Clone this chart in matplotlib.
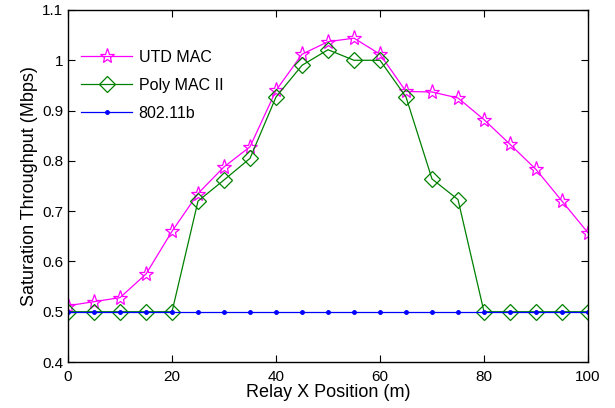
import matplotlib
matplotlib.use("Agg")
from matplotlib import pyplot as plt

plt.rcParams.update({
    "font.family": ["Liberation Sans", "DejaVu Sans"],
    "figure.facecolor": "white",
    "axes.facecolor": "white",
})

relay_x = [0, 5, 10, 15, 20, 25, 30, 35, 40, 45, 50, 55, 60, 65, 70, 75, 80, 85, 90, 95, 100]
utd_mac = [0.512, 0.520, 0.528, 0.575, 0.660, 0.735, 0.788, 0.828, 0.940, 1.012, 1.037, 1.044,
           1.012, 0.938, 0.937, 0.925, 0.882, 0.833, 0.783, 0.720, 0.657]
poly_mac = [0.5, 0.5, 0.5, 0.5, 0.5, 0.720, 0.762, 0.805, 0.927, 0.990, 1.021, 1.0,
            1.0, 0.927, 0.764, 0.723, 0.5, 0.5, 0.5, 0.5, 0.5]
dot11b = [0.5] * len(relay_x)

fig = plt.figure(figsize=(6.15, 4.08), dpi=100)
ax = fig.add_axes([0.1106, 0.1127, 0.8455, 0.8628])

ax.plot(relay_x, utd_mac, color="#ff00ff", marker="*", markersize=11,
        markerfacecolor="none", markeredgewidth=0.9, linewidth=0.9, label="UTD MAC")
ax.plot(relay_x, poly_mac, color="#008000", marker="D", markersize=8.5,
        markerfacecolor="none", markeredgewidth=0.9, linewidth=0.9, label="Poly MAC II")
ax.plot(relay_x, dot11b, color="#0000ff", marker=".", markersize=5,
        linewidth=0.9, label="802.11b")

ax.set_xlim(0, 100)
ax.set_ylim(0.4, 1.1)
ax.set_xticks([0, 20, 40, 60, 80, 100])
ax.set_yticks([0.4, 0.5, 0.6, 0.7, 0.8, 0.9, 1.0, 1.1])
ax.set_yticklabels(["0.4", "0.5", "0.6", "0.7", "0.8", "0.9", "1", "1.1"])
ax.tick_params(direction="in", top=True, right=True, labelsize=11, length=5)
ax.tick_params(axis="x", pad=6)
for sp in ax.spines.values():
    sp.set_linewidth(1.0)

ax.set_xlabel("Relay X Position (m)", fontsize=13, labelpad=0)
ax.set_ylabel("Saturation Throughput (Mbps)", fontsize=13, labelpad=3)

ax.legend(loc="upper left", frameon=False, fontsize=11.5, handlelength=3.2,
          handletextpad=0.4, labelspacing=0.82, borderpad=0, borderaxespad=0,
          bbox_to_anchor=(0.025, 0.887))

fig.savefig("out.png", dpi=100)
